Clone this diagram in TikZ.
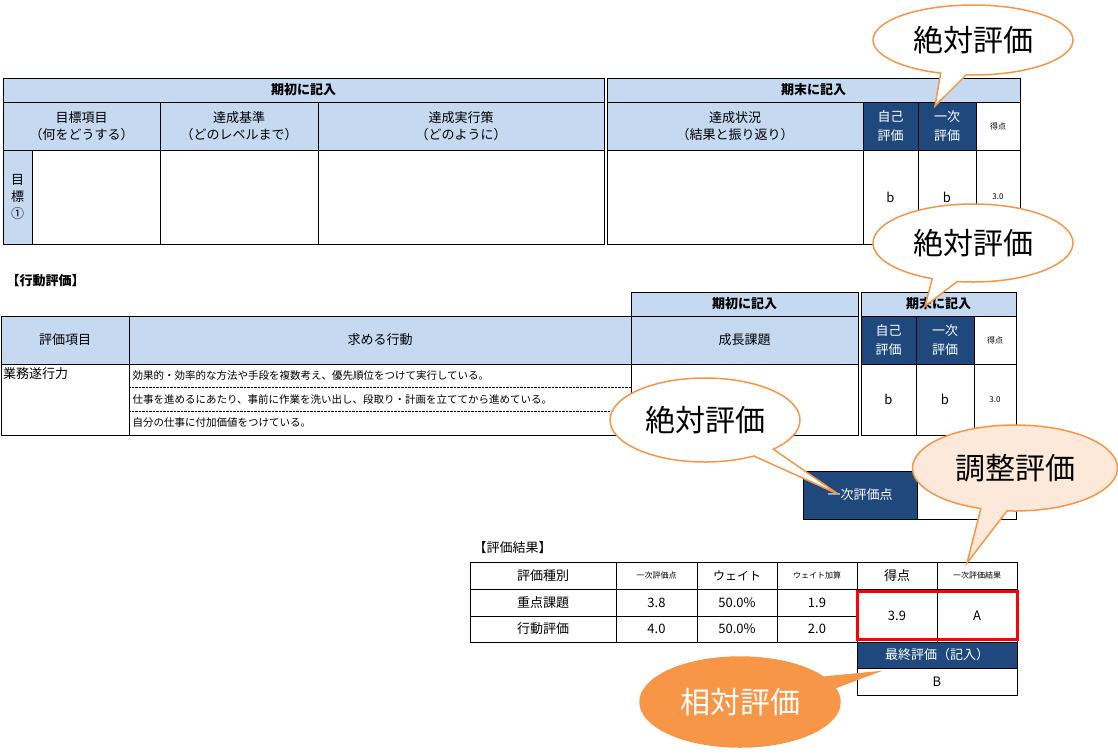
\documentclass[tikz,border=0pt]{standalone}
\usepackage{fontspec}
\setmainfont{Noto Sans CJK JP}
\usetikzlibrary{shapes.callouts}

\definecolor{lblue}{HTML}{C5D9F1}
\definecolor{dblue}{HTML}{1F497D}
\definecolor{orng}{HTML}{F79646}
\definecolor{peach}{HTML}{FDE9D9}

% table cell: corners, style, text
\newcommand{\tcell}[6]{%
  \path[#5] (#1,#2) rectangle (#3,#4);
  \node[align=center, inner sep=0pt] at ({(#1+#3)/2},{(#2+#4)/2}) {#6};}

\begin{document}
\begin{tikzpicture}[x=1pt, y=-1pt,
    hd/.style={draw, fill=lblue},
    dk/.style={draw, fill=dblue},
    wt/.style={draw, fill=white},
    bubble/.style={ellipse callout, draw=orng, line width=1.5pt, fill=white,
      font=\fontsize{30}{32}\selectfont, inner sep=2pt}
  ]
  \useasboundingbox (0,0) rectangle (1118,753);

  \begin{scope}[font=\fontsize{13}{17}\selectfont]
  % top table
  \tcell{3}{78}{604}{102}{hd}{\textbf{期初に記入}}
  \tcell{607}{78}{1020}{102}{hd}{\textbf{期末に記入}}
  \tcell{3}{102}{160}{150}{hd}{目標項目\\（何をどうする）}
  \tcell{160}{102}{318}{150}{hd}{達成基準\\（どのレベルまで）}
  \tcell{318}{102}{604}{150}{hd}{達成実行策\\（どのように）}
  \tcell{607}{102}{863}{150}{hd}{達成状況\\（結果と振り返り）}
  \tcell{863}{102}{918}{150}{dk}{\color{white}自己\\[2pt]\color{white}評価}
  \tcell{918}{102}{976}{150}{dk}{\color{white}一次\\[2pt]\color{white}評価}
  \tcell{976}{102}{1020}{150}{wt}{\footnotesize 得点}
  \tcell{3}{150}{32}{244}{hd}{目\\標\\①}
  \tcell{32}{150}{160}{244}{wt}{}
  \tcell{160}{150}{318}{244}{wt}{}
  \tcell{318}{150}{604}{244}{wt}{}
  \tcell{607}{150}{863}{244}{wt}{}
  \tcell{863}{150}{918}{244}{wt}{b}
  \tcell{918}{150}{976}{244}{wt}{b}
  \tcell{976}{150}{1020}{244}{wt}{\footnotesize 3.0}

  \node[anchor=west] (kodo) at (3,281) {\textbf{【行動評価】}};

  % behaviour table
  \tcell{631}{292}{858}{316}{hd}{\textbf{期初に記入}}
  \tcell{861}{292}{1016}{316}{hd}{\textbf{期末に記入}}
  \tcell{1}{316}{129}{364}{hd}{評価項目}
  \tcell{129}{316}{631}{364}{hd}{求める行動}
  \tcell{631}{316}{858}{364}{hd}{成長課題}
  \tcell{861}{316}{916}{364}{dk}{\color{white}自己\\[2pt]\color{white}評価}
  \tcell{916}{316}{974}{364}{dk}{\color{white}一次\\[2pt]\color{white}評価}
  \tcell{974}{316}{1016}{364}{wt}{\footnotesize 得点}
  \tcell{1}{364}{129}{435}{wt}{}
  \tcell{129}{364}{631}{435}{wt}{}
  \tcell{631}{364}{858}{435}{wt}{}
  \tcell{861}{364}{916}{435}{wt}{b}
  \tcell{916}{364}{974}{435}{wt}{b}
  \tcell{974}{364}{1016}{435}{wt}{\footnotesize 3.0}
  \draw[densely dotted] (129,387) -- (631,387) (129,411) -- (631,411);
  \node[anchor=north west, inner sep=2pt] (gyomu) at (1,365) {業務遂行力};
  \begin{scope}[font=\fontsize{10.5}{12}\selectfont]
  \node[anchor=west] (b1) at (129,376) {効果的・効率的な方法や手段を複数考え、優先順位をつけて実行している。};
  \node[anchor=west] (b2) at (129,399) {仕事を進めるにあたり、事前に作業を洗い出し、段取り・計画を立ててから進めている。};
  \node[anchor=west] (b3) at (129,423) {自分の仕事に付加価値をつけている。};
  \end{scope}

  % primary score box
  \tcell{803}{471}{917}{519}{dk}{\color{white}一次評価点}
  \tcell{917}{471}{1016}{519}{wt}{}

  % result table
  \node[anchor=west] (kekka) at (470,548) {【評価結果】};
  \tcell{470}{562}{616}{589}{wt}{評価種別}
  \tcell{616}{562}{697}{589}{wt}{\footnotesize 一次評価点}
  \tcell{697}{562}{777}{589}{wt}{\large ウェイト}
  \tcell{777}{562}{857}{589}{wt}{\footnotesize ウェイト加算}
  \tcell{857}{562}{937}{589}{wt}{得点}
  \tcell{937}{562}{1017}{589}{wt}{\footnotesize 一次評価結果}
  \tcell{470}{589}{616}{616}{wt}{重点課題}
  \tcell{616}{589}{697}{616}{wt}{3.8}
  \tcell{697}{589}{777}{616}{wt}{50.0\%}
  \tcell{777}{589}{857}{616}{wt}{1.9}
  \tcell{470}{616}{616}{642}{wt}{行動評価}
  \tcell{616}{616}{697}{642}{wt}{4.0}
  \tcell{697}{616}{777}{642}{wt}{50.0\%}
  \tcell{777}{616}{857}{642}{wt}{2.0}
  \tcell{857}{589}{937}{642}{wt}{3.9}
  \tcell{937}{589}{1017}{642}{wt}{A}
  \draw[red, line width=3pt] (857,591) rectangle (1017,639);
  \tcell{857}{642}{1017}{668}{dk}{\color{white}最終評価（記入）}
  \tcell{857}{668}{1017}{695}{wt}{B}
  \end{scope}

  % callouts
  \node[bubble, minimum width=200pt, minimum height=70pt,
    callout absolute pointer={(935,106)}] (abs1) at (973,40) {絶対評価};
  \node[bubble, minimum width=200pt, minimum height=78pt,
    callout absolute pointer={(925,306)}] (abs2) at (973,243) {絶対評価};
  \node[bubble, minimum width=190pt, minimum height=84pt,
    callout absolute pointer={(838,494)}] (abs3) at (705,420) {絶対評価};
  \node[bubble, fill=peach, minimum width=205pt, minimum height=86pt,
    callout absolute pointer={(967,563)}] (adj) at (1015,468) {調整評価};
  \node[bubble, fill=orng, text=white, minimum width=200pt, minimum height=90pt,
    callout absolute pointer={(877,672)}] (rel) at (740,702) {相対評価};
\end{tikzpicture}
\end{document}
